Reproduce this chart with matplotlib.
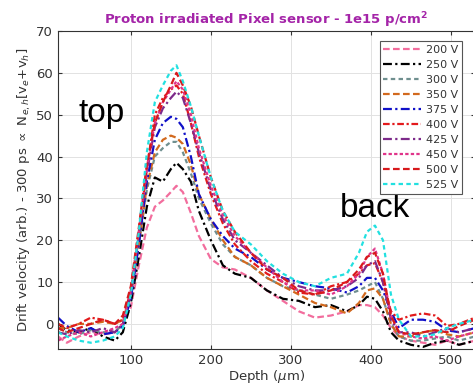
import matplotlib
matplotlib.use('Agg')
import matplotlib.pyplot as plt

# depth grid (um) shared by all voltage scans
depth = [9, 20, 35, 50, 65, 80, 90, 100, 110, 120, 130, 140, 150, 157, 165, 175, 185,
         200, 215, 230, 250, 270, 290, 310, 330, 350, 370, 385, 395, 405, 415, 425,
         435, 450, 465, 480, 495, 510, 530]

v200 = [-3, -4.5, -3, -2, -2.5, -2, 0, 4, 14, 23, 28, 29.5, 31.5, 33, 31.5, 26.5, 21,
        15.5, 13.5, 13, 11, 8, 5.5, 3, 1.5, 2, 3, 4.5, 4.5, 4, 2, -1,
        -3, -4, -4.5, -5, -4, -5, -4]
v250 = [0, -1.5, -2, -1, -3, -4, -2, 5, 16, 28, 35, 34, 37, 38.5, 37, 34, 27,
        20, 14, 12, 11, 8, 6, 5.5, 4, 4.5, 3, 4.5, 6.5, 6, 3, -2,
        -4, -5, -5.5, -4.5, -4, -5, -4]
v300 = [-1, -2, -2.5, -1.5, -2, -2, 0, 7, 19, 32, 40, 42, 43.5, 43.5, 41, 36, 30,
        24, 19, 16, 14, 11, 9, 8, 7, 6, 7, 8, 9, 10, 6, 0,
        -3, -4, -4, -3.5, -3, -4, -3]
v350 = [-1, -1, 0, 0, 0.5, 0, 1, 7, 19, 33, 41, 44, 45, 44.5, 43, 38, 31,
        25, 20, 16, 14, 11, 9, 7, 5, 4, 2.5, 5, 8, 8.5, 6, 0,
        -3, -3, -2, -1.5, -2.5, -3, -2]
v375 = [1.5, -0.5, -2, -1, -2.5, -2, -0.5, 6, 19, 34, 44, 48, 49.5, 49, 47, 40, 31,
        25, 21, 18, 16, 13, 11, 10, 9, 8.5, 7.5, 9, 11, 11, 8, 3,
        -1, 1, 1, 0.5, -1.5, -2, -1]
v400 = [0, -1, 0, 1.5, 1, 0, 1, 8, 22, 37, 50, 54, 56, 57, 55, 48, 40,
        31, 24, 19, 15, 12, 10, 7.5, 7, 9, 10, 12, 14, 14.5, 10, 3,
        1, 2, 2.5, 2, -0.5, 0, 1.5]
v425 = [-2, -2.5, -1.5, -2, -1, -2, 0, 7, 21, 36, 47, 51.5, 54, 55.5, 54, 48, 41,
        32, 25, 20, 17, 14, 11, 9, 8, 8, 9, 11, 14, 15, 10, 1,
        -2, -2, -3, -2, -1, -2, -1]
v450 = [-4, -3, -2, -3, -2, -1, 0, 8, 22, 37, 48, 53, 56, 58, 56, 50, 42,
        33, 26, 21, 17, 13.5, 10, 8, 8, 7, 9, 12, 16, 18, 12, 2,
        -2, -3, -3.5, -3, -4, -3, -2]
v500 = [-1, -2, -1, 0, 1, 0, 2, 9, 23, 38, 48, 53, 57, 60, 57, 52, 45,
        35, 27, 22, 17, 13, 11, 8, 7, 8, 10, 13, 16, 17, 12, 2,
        -2, -2.5, -2, -1.5, -2, -0.5, 1]
v525 = [-2, -3, -4, -4.5, -4, -3, -1, 7, 22, 41, 53, 57, 60.5, 61.8, 58, 52, 45,
        35, 27, 22, 19, 15, 12, 10, 9, 11, 12, 17, 22, 23.5, 20, 7,
        1, -3, -3, -2.5, -1, 0, 1]

labels = ['200 V', '250 V', '300 V', '350 V', '375 V', '400 V', '425 V', '450 V', '500 V', '525 V']
series = [v200, v250, v300, v350, v375, v400, v425, v450, v500, v525]
colors = ['#f26d9d', 'black', '#6f8f8f', '#d2691e', '#1010c8', '#e31a1c',
          '#7d2a8a', '#e0348a', '#d7191c', '#22e0e0']
styles = [(0, (3, 1.5)), (0, (4, 1.5, 1, 1.5)), (0, (2, 1.5)), (0, (3, 1.5)),
          (0, (4, 1.5, 1, 1.5)), (0, (3, 1.2, 1, 1.2)), (0, (4, 1.5, 1, 1.5)),
          (0, (1.5, 1)), (0, (3, 1.5)), (0, (2, 1.5))]

fig = plt.figure(figsize=(4.73, 3.91), dpi=100)
ax = fig.add_axes([58 / 473, 42 / 391, 417 / 473, 318 / 391])

for vals, lab, col, ls in zip(series, labels, colors, styles):
    ax.plot(depth, vals, color=col, linestyle=ls, linewidth=1.6, label=lab)

ax.set_xlim(9, 530)
ax.set_ylim(-6, 70)
ax.set_xticks([100, 200, 300, 400, 500])
ax.set_yticks(range(0, 71, 10))
ax.grid(True, color='#e2e2e2', linewidth=0.7)
ax.set_axisbelow(True)
ax.tick_params(direction='in', length=3, top=True, right=True, labelsize=9.5,
               colors='#333333', width=0.8)
for sp in ax.spines.values():
    sp.set_color('#333333')
    sp.set_linewidth(0.8)

ax.set_title('Proton irradiated Pixel sensor - 1e15 p/cm$^\\mathbf{2}$', fontsize=9.5,
             fontweight='bold', color='#a424a8', pad=5)
ax.set_xlabel('Depth ($\\mu$m)', fontsize=9.5, color='#333333', labelpad=1)
ax.set_ylabel('Drift velocity (arb.) - 300 ps $\\propto$ N$_{e,h}$[v$_e$+v$_h$]',
              fontsize=9.5, color='#333333', labelpad=2)

ax.text(34, 48.3, 'top', fontsize=24, family='Liberation Sans', ha='left', va='baseline')
ax.text(361, 25.6, 'back', fontsize=24, family='Liberation Sans', ha='left', va='baseline')

leg = ax.legend(loc='upper right', bbox_to_anchor=(0.982, 0.985), fontsize=8,
                handlelength=3.4, handletextpad=0.4, labelspacing=0.45,
                borderpad=0.35, fancybox=False, framealpha=1, edgecolor='#555555')
leg.get_frame().set_linewidth(0.8)
for t in leg.get_texts():
    t.set_color('#333333')

plt.savefig('out.png', dpi=100)
plt.close(fig)
